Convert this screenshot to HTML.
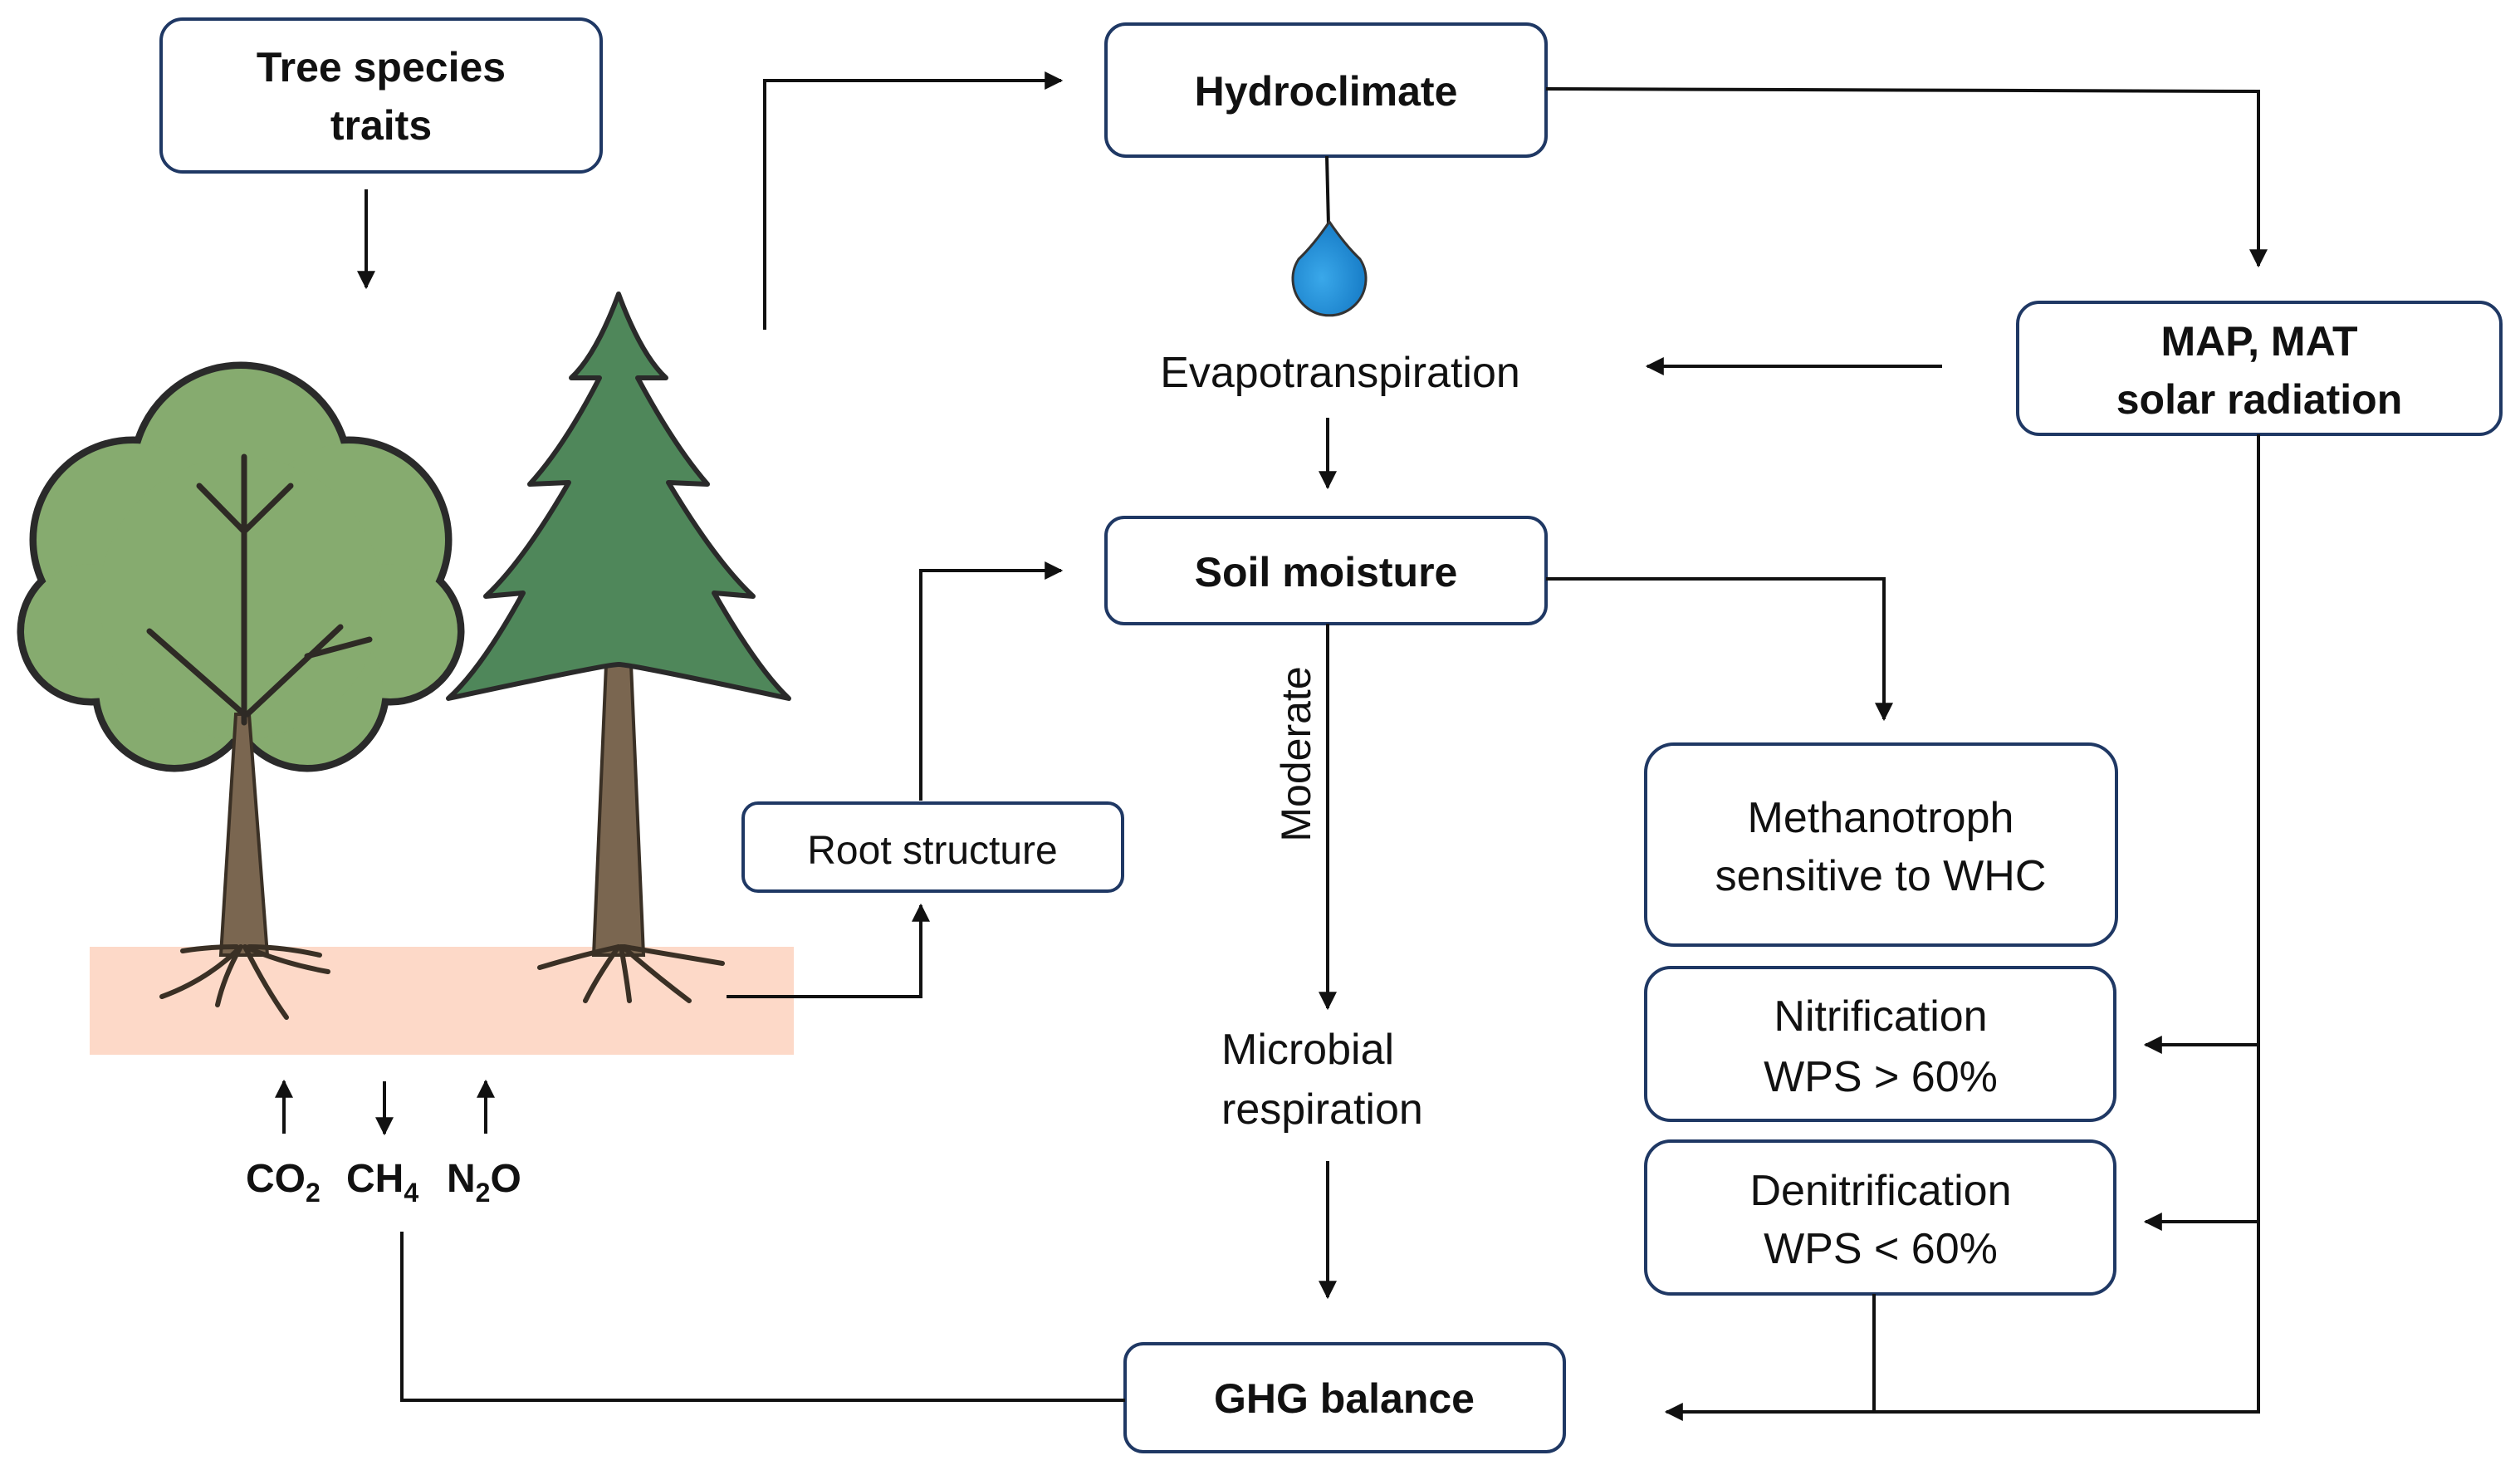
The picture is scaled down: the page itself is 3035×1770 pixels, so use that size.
<!DOCTYPE html>
<html><head><meta charset="utf-8"><style>
html,body{margin:0;padding:0;background:#fff}
svg{display:block}
text{font-family:"Liberation Sans",sans-serif;fill:#111}
.b{font-weight:bold}
</style></head><body>
<svg width="3035" height="1770" viewBox="0 0 3035 1770" xmlns="http://www.w3.org/2000/svg">
<defs>
<marker id="A" viewBox="0 0 10 10" refX="9" refY="5" markerWidth="22" markerHeight="22" orient="auto" markerUnits="userSpaceOnUse"><path d="M0,0 L10,5 L0,10 z" fill="#111"/></marker>
<radialGradient id="d" cx="0.4" cy="0.6" r="0.7"><stop offset="0" stop-color="#3aa8ea"/><stop offset="1" stop-color="#1276c2"/></radialGradient>
</defs>

<rect x="108" y="1140" width="848" height="130" fill="#fdd9c8"/>

<g fill="#86ab6f" stroke="#2a2a2a" stroke-width="9">
<circle cx="290" cy="570" r="130"/><circle cx="160" cy="650" r="120"/><circle cx="420" cy="650" r="120"/>
<circle cx="110" cy="760" r="85"/><circle cx="470" cy="760" r="85"/><circle cx="210" cy="830" r="95"/><circle cx="370" cy="830" r="95"/>
</g>
<g fill="#86ab6f">
<circle cx="290" cy="570" r="126"/><circle cx="160" cy="650" r="116"/><circle cx="420" cy="650" r="116"/>
<circle cx="110" cy="760" r="81"/><circle cx="470" cy="760" r="81"/><circle cx="210" cy="830" r="91"/><circle cx="370" cy="830" r="91"/>
<circle cx="290" cy="720" r="170"/>
</g>
<path d="M266,1150 L284,860 L300,860 L322,1150 Z" fill="#7a6650" stroke="#3a3025" stroke-width="4"/>
<g stroke="#2e2a25" stroke-width="7" fill="none" stroke-linecap="round">
<path d="M294,870 L294,550"/><path d="M294,640 L240,585"/><path d="M294,640 L350,585"/>
<path d="M294,860 L180,760"/><path d="M298,860 L410,755"/><path d="M370,790 L445,770"/>
</g>
<g stroke="#3a3025" stroke-width="6" fill="none" stroke-linecap="round">
<path d="M290,1140 Q250,1180 195,1200"/><path d="M290,1140 Q270,1175 262,1210"/><path d="M295,1140 Q320,1190 345,1225"/>
<path d="M295,1140 Q340,1160 395,1170"/><path d="M285,1140 Q250,1140 220,1145"/><path d="M300,1140 Q340,1140 385,1150"/>
</g>

<path d="M745,1150 L715,1150 L730,800 L760,800 L775,1150 Z" fill="#7a6650" stroke="#3a3025" stroke-width="4"/>
<path d="M745,354 Q772,427 802,455 L768,455 Q812,537 852,583 L805,581 Q862,676 907,718 L860,714 Q912,805 950,841 Q760,800 745,800 Q730,800 540,841 Q580,805 630,714 L585,718 Q630,676 685,581 L638,583 Q680,537 722,455 L688,455 Q718,427 745,354 Z" fill="#4f875a" stroke="#2a2a2a" stroke-width="6" stroke-linejoin="round"/>
<g stroke="#3a3025" stroke-width="6" fill="none" stroke-linecap="round">
<path d="M745,1140 Q700,1150 650,1165"/><path d="M745,1140 Q720,1175 705,1205"/><path d="M748,1140 Q755,1180 758,1205"/>
<path d="M750,1140 Q790,1175 830,1205"/><path d="M752,1140 Q810,1150 870,1160"/>
</g>

<g fill="#fff" stroke="#1f3864" stroke-width="4">
<rect x="194" y="23" width="530" height="184" rx="26"/>
<rect x="1332" y="29" width="530" height="159" rx="24"/>
<rect x="2430" y="364" width="582" height="159" rx="26"/>
<rect x="1332" y="623" width="530" height="128" rx="22"/>
<rect x="895" y="967" width="457" height="106" rx="18"/>
<rect x="1982" y="896" width="567" height="242" rx="34"/>
<rect x="1982" y="1165" width="565" height="184" rx="30"/>
<rect x="1982" y="1374" width="565" height="184" rx="30"/>
<rect x="1355" y="1618" width="529" height="130" rx="22"/>
</g>

<g stroke="#111" stroke-width="4" fill="none">
<path d="M441,228 L441,346" marker-end="url(#A)"/>
<path d="M921,397 L921,97 L1278,97" marker-end="url(#A)"/>
<path d="M1862,107 L2720,110 L2720,320" marker-end="url(#A)"/>
<path d="M1598,188 L1600,272"/>
<path d="M2339,441 L1984,441" marker-end="url(#A)"/>
<path d="M1599,503 L1599,587" marker-end="url(#A)"/>
<path d="M875,1200 L1109,1200 L1109,1090" marker-end="url(#A)"/>
<path d="M1109,964 L1109,687 L1278,687" marker-end="url(#A)"/>
<path d="M1862,697 L2269,697 L2269,866" marker-end="url(#A)"/>
<path d="M1599,751 L1599,1214" marker-end="url(#A)"/>
<path d="M1599,1398 L1599,1562" marker-end="url(#A)"/>
<path d="M1355,1686 L484,1686 L484,1483"/>
<path d="M2720,523 L2720,1700 L2007,1700" marker-end="url(#A)"/>
<path d="M2720,1258 L2584,1258" marker-end="url(#A)"/>
<path d="M2720,1471 L2584,1471" marker-end="url(#A)"/>
<path d="M2257,1558 L2257,1700"/>
<path d="M342,1365 L342,1302" marker-end="url(#A)"/>
<path d="M463,1302 L463,1365" marker-end="url(#A)"/>
<path d="M585,1365 L585,1302" marker-end="url(#A)"/>
</g>

<path d="M1601,267 Q1620,295 1638,312 A44,44 0 1 1 1564,312 Q1582,295 1601,267 Z" fill="url(#d)" stroke="#333" stroke-width="3"/>

<g class="b" font-size="50" text-anchor="middle">
<text x="459" y="98" class="b">Tree species</text>
<text x="459" y="168" class="b">traits</text>
<text x="1597" y="127" class="b">Hydroclimate</text>
<text x="2721" y="428" class="b">MAP, MAT</text>
<text x="2721" y="498" class="b">solar radiation</text>
<text x="1597" y="706" class="b">Soil moisture</text>
<text x="1619" y="1701" class="b">GHG balance</text>
</g>
<g font-size="48" class="b">
<text x="296" y="1435" class="b">CO<tspan font-size="32" dy="12">2</tspan></text>
<text x="417" y="1435" class="b">CH<tspan font-size="32" dy="12">4</tspan></text>
<text x="538" y="1435" class="b">N<tspan font-size="32" dy="12">2</tspan><tspan dy="-12">O</tspan></text>
</g>
<g font-size="52" text-anchor="middle">
<text x="1614" y="466">Evapotranspiration</text>
<text x="1123" y="1040" font-size="48">Root structure</text>
<text x="2265" y="1002">Methanotroph</text>
<text x="2265" y="1072">sensitive to WHC</text>
<text x="2265" y="1241">Nitrification</text>
<text x="2265" y="1314">WPS &gt; 60%</text>
<text x="2265" y="1451">Denitrification</text>
<text x="2265" y="1521">WPS &lt; 60%</text>
</g>
<text x="1471" y="1281" font-size="52">Microbial</text>
<text x="1471" y="1353" font-size="52">respiration</text>
<text transform="translate(1578,908) rotate(-90)" font-size="50" text-anchor="middle">Moderate</text>
</svg>
</body></html>
